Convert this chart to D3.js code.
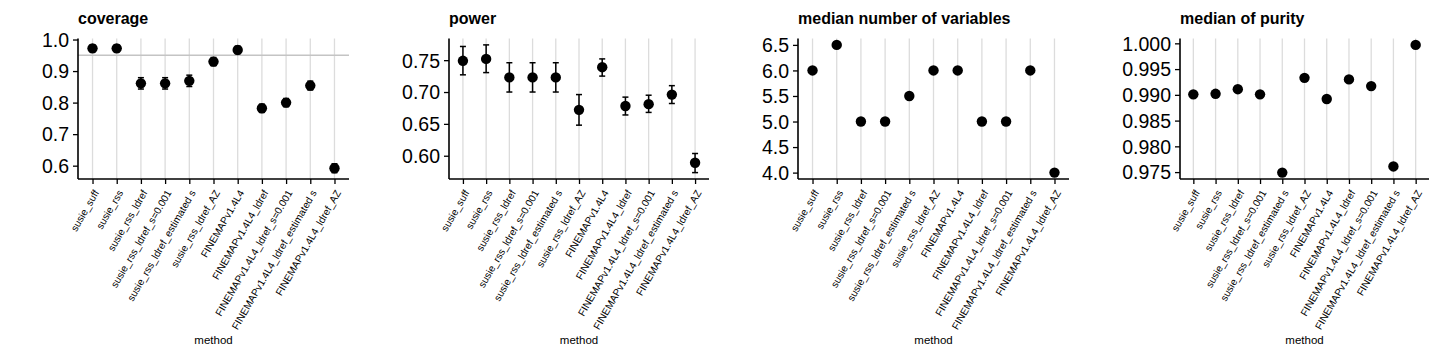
<!DOCTYPE html>
<html><head><meta charset="utf-8">
<script src="https://cdn.jsdelivr.net/npm/d3@7"></script>
<style>body{margin:0;background:#fff}svg{display:block}text{font-family:"Liberation Sans",Arial,Helvetica,sans-serif}</style>
</head><body><svg id="c" width="1440" height="360"></svg>
<script>
const methods = ["susie_suff","susie_rss","susie_rss_ldref","susie_rss_ldref_s=0.001","susie_rss_ldref_estimated s","susie_rss_ldref_AZ","FINEMAPv1.4L4","FINEMAPv1.4L4_ldref","FINEMAPv1.4L4_ldref_s=0.001","FINEMAPv1.4L4_ldref_estimated s","FINEMAPv1.4L4_ldref_AZ"];
const coverage   = [0.972,0.972,0.861,0.861,0.869,0.930,0.967,0.782,0.800,0.854,0.592];
const coverageLo = [0.961,0.961,0.843,0.843,0.851,0.917,0.955,0.769,0.787,0.840,0.578];
const coverageHi = [0.983,0.983,0.879,0.879,0.887,0.943,0.979,0.795,0.813,0.868,0.606];
const power   = [0.749,0.752,0.723,0.723,0.723,0.672,0.739,0.678,0.681,0.696,0.589];
const powerLo = [0.727,0.7305,0.700,0.700,0.700,0.648,0.725,0.664,0.668,0.682,0.5735];
const powerHi = [0.7715,0.774,0.746,0.746,0.746,0.696,0.752,0.692,0.695,0.710,0.6035];
const medianVars = [6,6.5,5,5,5.5,6,6,5,5,6,4];
const purity = [0.9901,0.9902,0.9911,0.9901,0.9749,0.9933,0.9892,0.9930,0.9917,0.9761,0.9997];
const coverageTicks = [0.6,0.7,0.8,0.9,1.0];
const powerTicks = [0.60,0.65,0.70,0.75];
const varsTicks = [4.0,4.5,5.0,5.5,6.0,6.5];
const purityTicks = [0.975,0.980,0.985,0.990,0.995,1.000];
const coverageTarget = 0.95;

(function(){
const panels = [
  {title:"coverage", v:coverage, lo:coverageLo, hi:coverageHi, ticks:coverageTicks, fmt:".1f", x0:78, x1:349, hline:coverageTarget},
  {title:"power", v:power, lo:powerLo, hi:powerHi, ticks:powerTicks, fmt:".2f", x0:449, x1:709},
  {title:"median number of variables", v:medianVars, ticks:varsTicks, fmt:".1f", x0:798, x1:1069},
  {title:"median of purity", v:purity, ticks:purityTicks, fmt:".3f", x0:1180, x1:1429}
];
const yTop = 38.5, yBot = 179;
const svg = d3.select("#c");

panels.forEach(p => {
  const g = svg.append("g");
  const lows = p.lo || p.v, highs = p.hi || p.v;
  const mn = d3.min(lows), mx = d3.max(highs), r = mx - mn;
  const y = d3.scaleLinear().domain([mn - 0.05*r, mx + 0.05*r]).range([yBot, yTop]);
  const x = d3.scalePoint().domain(methods).range([p.x0, p.x1]).padding(0.6);

  g.selectAll("line.grid").data(methods).join("line").attr("class","grid")
    .attr("x1", d => x(d)).attr("x2", d => x(d)).attr("y1", yTop).attr("y2", yBot)
    .attr("stroke", "#dcdcdc").attr("stroke-width", 1.3);

  if (p.hline !== undefined) {
    g.append("line").attr("x1", p.x0).attr("x2", p.x1)
      .attr("y1", y(p.hline)).attr("y2", y(p.hline))
      .attr("stroke", "#c4c4c4").attr("stroke-width", 1.5);
  }

  if (p.lo) {
    const eb = g.selectAll("g.eb").data(methods).join("g").attr("class","eb");
    eb.append("line").attr("x1", d => x(d)).attr("x2", d => x(d))
      .attr("y1", (d,i) => y(p.lo[i])).attr("y2", (d,i) => y(p.hi[i]))
      .attr("stroke", "#000").attr("stroke-width", 1.5);
    eb.append("line").attr("x1", d => x(d)-3).attr("x2", d => x(d)+3)
      .attr("y1", (d,i) => y(p.lo[i])).attr("y2", (d,i) => y(p.lo[i]))
      .attr("stroke", "#000").attr("stroke-width", 1.5);
    eb.append("line").attr("x1", d => x(d)-3).attr("x2", d => x(d)+3)
      .attr("y1", (d,i) => y(p.hi[i])).attr("y2", (d,i) => y(p.hi[i]))
      .attr("stroke", "#000").attr("stroke-width", 1.5);
  }

  g.selectAll("circle").data(methods).join("circle")
    .attr("cx", d => x(d)).attr("cy", (d,i) => y(p.v[i])).attr("r", 5.2).attr("fill", "#000");

  const ya = g.append("g").attr("transform", `translate(${p.x0},0)`)
    .call(d3.axisLeft(y).tickValues(p.ticks).tickFormat(d3.format(p.fmt)).tickSize(5).tickPadding(4).tickSizeOuter(0));
  ya.select(".domain").remove();
  ya.append("line").attr("x1",0).attr("x2",0).attr("y1",yTop).attr("y2",yBot).attr("stroke","#000").attr("stroke-width",1.6);
  ya.selectAll(".tick line").attr("stroke","#000").attr("stroke-width",1.3);
  ya.selectAll(".tick text").attr("font-size","19.5px").attr("fill","#000").attr("dy","0.35em");

  const xa = g.append("g").attr("transform", `translate(0,${yBot})`)
    .call(d3.axisBottom(x).tickSize(5).tickSizeOuter(0));
  xa.select(".domain").remove();
  xa.append("line").attr("x1",p.x0).attr("x2",p.x1).attr("y1",0).attr("y2",0).attr("stroke","#000").attr("stroke-width",1.6);
  xa.selectAll(".tick line").attr("stroke","#000").attr("stroke-width",1.3);
  xa.selectAll(".tick text")
    .attr("font-size","10.2px").attr("fill","#000")
    .attr("text-anchor","end").attr("x",0).attr("y",0).attr("dy","0.71em")
    .attr("transform","translate(0,10) rotate(-60)");

  g.append("text").attr("x", p.x0).attr("y", 24).attr("font-size","16px").attr("font-weight","bold").text(p.title);
  g.append("text").attr("x", (p.x0+p.x1)/2).attr("y", 343.5).attr("text-anchor","middle").attr("font-size","11.5px").text("method");
});
})();
</script></body></html>
